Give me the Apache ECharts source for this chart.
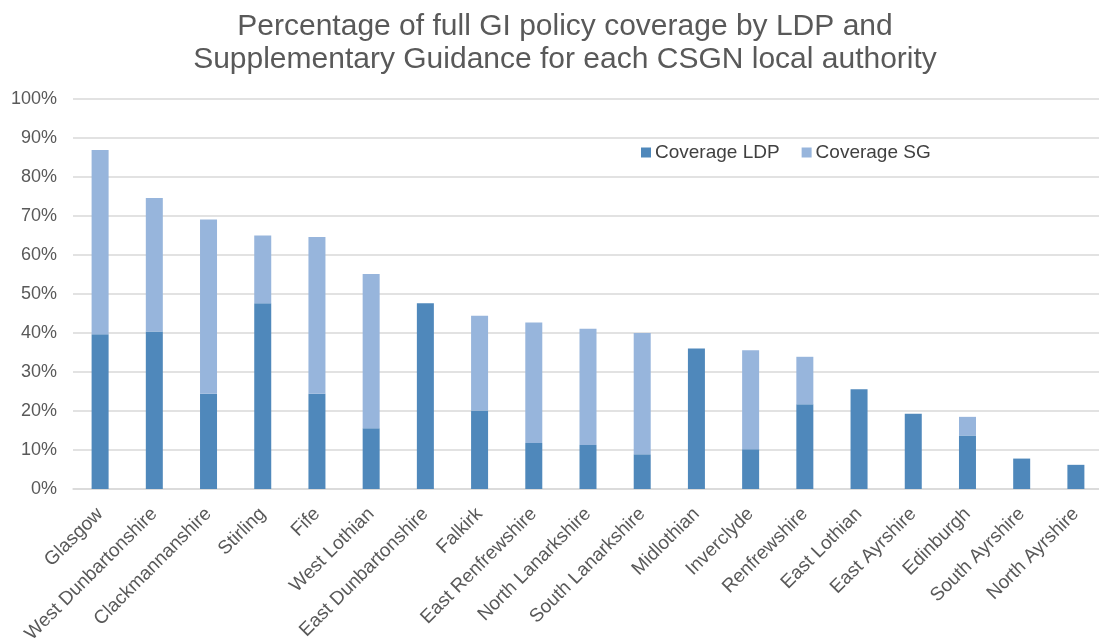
<!DOCTYPE html>
<html>
<head>
<meta charset="utf-8">
<script src="https://cdn.jsdelivr.net/npm/echarts@6/dist/echarts.min.js"></script>
<style>html,body{margin:0;padding:0;background:#fff;}#c{width:1099px;height:642px;}</style>
</head>
<body>
<div id="c"></div>
<script>
const categories = ["Glasgow","West Dunbartonshire","Clackmannanshire","Stirling","Fife","West Lothian","East Dunbartonshire","Falkirk","East Renfrewshire","North Lanarkshire","South Lanarkshire","Midlothian","Inverclyde","Renfrewshire","East Lothian","East Ayrshire","Edinburgh","South Ayrshire","North Ayrshire"];
const coverageLDP = [39.7,40.4,24.4,47.6,24.4,15.6,47.6,20.1,11.8,11.3,8.9,36.0,10.2,21.7,25.6,19.3,13.7,7.8,6.2];
const coverageSG  = [47.2,34.2,44.7,17.4,40.2,39.5,0,24.3,30.9,29.8,31.1,0,25.4,12.2,0,0,4.8,0,0];
const yTicks = [0,10,20,30,40,50,60,70,80,90,100];

const chart = echarts.init(document.getElementById('c'), null, {renderer:'canvas'});
const font = '"Liberation Sans", Arial, sans-serif';
chart.setOption({
  animation:false,
  backgroundColor:'#fff',
  title:{
    text:'Percentage of full GI policy coverage by LDP and\nSupplementary Guidance for each CSGN local authority',
    left:560, top:5, textAlign:'center',
    textStyle:{fontFamily:font,fontSize:30,fontWeight:'normal',color:'#595959',lineHeight:33}
  },
  legend:{
    data:['Coverage LDP','Coverage SG'],
    left:641, top:143, padding:0,
    itemWidth:10, itemHeight:10, itemGap:22,
    icon:'rect',
    textStyle:{fontFamily:font,fontSize:19,color:'#404040',padding:[0,0,0,-1]}
  },
  grid:{left:73, top:99, width:1030, height:390, containLabel:false, outerBoundsMode:'none'},
  xAxis:{
    type:'category', data:categories,
    axisLine:{lineStyle:{color:'#d9d9d9',width:1.5}},
    axisTick:{show:false},
    axisLabel:{rotate:45, interval:0, margin:22, fontFamily:font, fontSize:19, color:'#595959'}
  },
  yAxis:{
    type:'value', min:yTicks[0], max:yTicks[yTicks.length-1], interval:10,
    axisLine:{show:false}, axisTick:{show:false},
    splitLine:{lineStyle:{color:'#d9d9d9',width:1.5}},
    axisLabel:{formatter:v=>v+'%', margin:16, fontFamily:font, fontSize:18, color:'#595959'}
  },
  series:[
    {name:'Coverage LDP', type:'bar', stack:'a', data:coverageLDP, barWidth:17, itemStyle:{color:'#4f88bb'}},
    {name:'Coverage SG', type:'bar', stack:'a', data:coverageSG, barWidth:17, itemStyle:{color:'#97b5dc'}}
  ]
});
</script>
</body>
</html>
